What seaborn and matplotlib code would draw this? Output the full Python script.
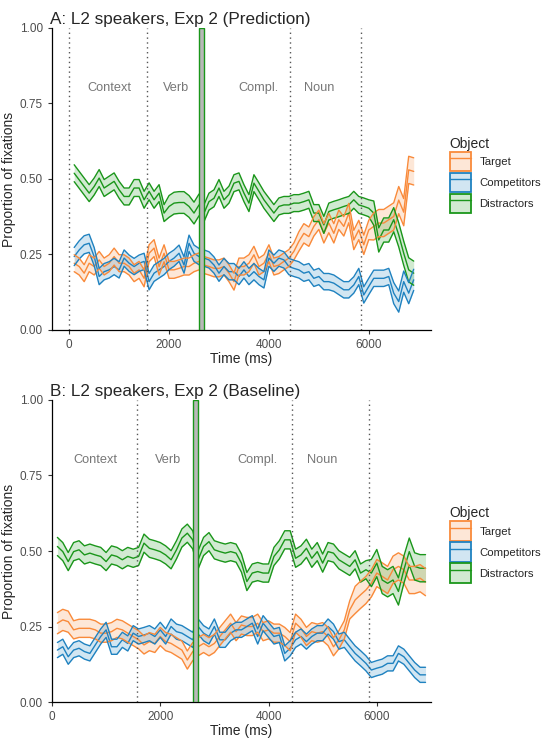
import numpy as np
import pandas as pd
import matplotlib
matplotlib.use("Agg")
import matplotlib.pyplot as plt
import seaborn as sns
from matplotlib.patches import Patch, Rectangle
from matplotlib.lines import Line2D

sns.set_style("ticks")
plt.rcParams['font.family'] = ['Liberation Sans', 'DejaVu Sans']

#%%
# data (proportion of fixations, 100 ms bins)
time = np.arange(100, 7000, 100)
objects = ["Target", "Competitors", "Distractors"]
colors = {"Target": "#F98A3A", "Competitors": "#1F82C0", "Distractors": "#1A961A"}

target_a = [0.221, 0.210, 0.188, 0.221, 0.210, 0.232, 0.210, 0.221, 0.243, 0.221,
            0.221, 0.210, 0.188, 0.199, 0.171, 0.254, 0.271, 0.210, 0.254, 0.199,
            0.199, 0.204, 0.210, 0.210, 0.221, 0.227, 0.215, 0.210, 0.204, 0.204,
            0.210, 0.188, 0.160, 0.210, 0.210, 0.221, 0.249, 0.210, 0.221, 0.254,
            0.210, 0.215, 0.227, 0.238, 0.260, 0.293, 0.320, 0.309, 0.343, 0.365,
            0.320, 0.354, 0.320, 0.365, 0.343, 0.387, 0.298, 0.331, 0.282, 0.331,
            0.343, 0.354, 0.354, 0.365, 0.376, 0.430, 0.390, 0.530, 0.525]
comp_a = [0.243, 0.265, 0.282, 0.287, 0.243, 0.177, 0.193, 0.199, 0.210, 0.199,
          0.238, 0.221, 0.210, 0.221, 0.227, 0.160, 0.188, 0.199, 0.210, 0.227,
          0.238, 0.254, 0.215, 0.287, 0.254, 0.243, 0.238, 0.232, 0.215, 0.188,
          0.210, 0.193, 0.193, 0.177, 0.199, 0.177, 0.193, 0.177, 0.166, 0.238,
          0.221, 0.238, 0.232, 0.210, 0.204, 0.199, 0.188, 0.193, 0.171, 0.177,
          0.160, 0.160, 0.155, 0.144, 0.133, 0.133, 0.149, 0.177, 0.116, 0.144,
          0.171, 0.171, 0.171, 0.177, 0.122, 0.094, 0.160, 0.122, 0.166]
dist_a = [0.519, 0.497, 0.475, 0.453, 0.475, 0.503, 0.470, 0.481, 0.492, 0.464,
          0.442, 0.442, 0.470, 0.470, 0.431, 0.459, 0.431, 0.453, 0.387, 0.409,
          0.420, 0.422, 0.422, 0.409, 0.387, 0.414, 0.387, 0.425, 0.436, 0.470,
          0.431, 0.448, 0.486, 0.492, 0.453, 0.420, 0.486, 0.459, 0.431, 0.409,
          0.387, 0.409, 0.414, 0.414, 0.420, 0.420, 0.425, 0.431, 0.387, 0.387,
          0.348, 0.392, 0.398, 0.403, 0.409, 0.414, 0.431, 0.414, 0.409, 0.403,
          0.387, 0.298, 0.331, 0.331, 0.365, 0.315, 0.254, 0.199, 0.188]

target_b = [0.261, 0.272, 0.266, 0.239, 0.244, 0.244, 0.244, 0.239, 0.228, 0.228,
            0.233, 0.244, 0.239, 0.228, 0.217, 0.206, 0.189, 0.200, 0.194, 0.217,
            0.200, 0.194, 0.183, 0.172, 0.139, 0.167, 0.183, 0.194, 0.183, 0.194,
            0.217, 0.239, 0.261, 0.233, 0.255, 0.250, 0.250, 0.261, 0.233, 0.239,
            0.228, 0.228, 0.217, 0.200, 0.261, 0.244, 0.217, 0.233, 0.228, 0.233,
            0.217, 0.183, 0.206, 0.239, 0.305, 0.338, 0.355, 0.371, 0.393, 0.427,
            0.416, 0.404, 0.438, 0.449, 0.438, 0.404, 0.404, 0.410, 0.397]
comp_b = [0.172, 0.183, 0.150, 0.172, 0.178, 0.167, 0.161, 0.189, 0.217, 0.239,
          0.183, 0.183, 0.206, 0.194, 0.228, 0.217, 0.222, 0.228, 0.217, 0.239,
          0.217, 0.250, 0.233, 0.228, 0.217, 0.206, 0.250, 0.228, 0.217, 0.250,
          0.206, 0.206, 0.228, 0.239, 0.239, 0.250, 0.261, 0.217, 0.261, 0.239,
          0.217, 0.222, 0.161, 0.178, 0.206, 0.217, 0.200, 0.217, 0.228, 0.228,
          0.250, 0.233, 0.200, 0.206, 0.183, 0.161, 0.145, 0.128, 0.106, 0.112,
          0.117, 0.128, 0.128, 0.161, 0.150, 0.128, 0.106, 0.090, 0.090]
dist_b = [0.515, 0.498, 0.465, 0.498, 0.504, 0.487, 0.493, 0.487, 0.482, 0.465,
          0.487, 0.482, 0.471, 0.482, 0.476, 0.482, 0.526, 0.509, 0.504, 0.498,
          0.487, 0.471, 0.504, 0.543, 0.559, 0.537, 0.471, 0.515, 0.531, 0.504,
          0.498, 0.493, 0.498, 0.493, 0.460, 0.399, 0.427, 0.432, 0.427, 0.427,
          0.482, 0.504, 0.537, 0.537, 0.476, 0.487, 0.509, 0.476, 0.498, 0.460,
          0.498, 0.493, 0.471, 0.460, 0.449, 0.471, 0.427, 0.438, 0.427, 0.460,
          0.404, 0.393, 0.404, 0.366, 0.438, 0.498, 0.449, 0.443, 0.443]

# half-width of the ribbons (standard error), estimated per stretch
se_target_a = [0.028] * 45 + [0.032] * 15 + [0.045] * 9
se_comp_a = [0.030] * 5 + [0.027] * 59 + [0.035] * 5
se_dist_a = [0.028] * 19 + [0.036] * 7 + [0.028] * 34 + [0.040] * 9
se_target_b = [0.035] * 3 + [0.030] * 52 + [0.045] * 14
se_comp_b = [0.025] * 69
se_dist_b = [0.030] * 58 + [0.045] * 11

word_onsets_a = [0, 1560, 4430, 5850]
word_onsets_b = [1570, 4430, 5850]
word_labels = ["Context", "Verb", "Compl.", "Noun"]
word_label_x = [800, 2150, 3800, 5000]
shade_window = (2600, 2700)

panels = [
    ("A: L2 speakers, Exp 2 (Prediction)",
     {"Target": (target_a, se_target_a), "Competitors": (comp_a, se_comp_a),
      "Distractors": (dist_a, se_dist_a)}, word_onsets_a, (-345, 7245)),
    ("B: L2 speakers, Exp 2 (Baseline)",
     {"Target": (target_b, se_target_b), "Competitors": (comp_b, se_comp_b),
      "Distractors": (dist_b, se_dist_b)}, word_onsets_b, (0, 7000)),
]

#%%
fig = plt.figure(figsize=(5.5, 7.41), dpi=100)
ax_pos = [[0.0945, 0.5547, 0.689, 0.4076], [0.0945, 0.0526, 0.689, 0.4076]]
legend_top = [0.825, 0.326]

for (title, series, onsets, xlim), pos, ltop in zip(panels, ax_pos, legend_top):
    ax = fig.add_axes(pos)
    frames = []
    for obj in objects:
        m, se = series[obj]
        m = np.array(m)
        se = np.array(se)
        frames.append(pd.DataFrame({"time": time, "mean": m, "lo": m - se,
                                    "hi": m + se, "Object": obj}))
    df = pd.concat(frames, ignore_index=True)

    for obj in objects:
        d = df[df["Object"] == obj]
        ax.fill_between(d["time"], d["lo"], d["hi"], color=colors[obj],
                        alpha=0.2, linewidth=0)
    for col in ["mean", "lo", "hi"]:
        sns.lineplot(data=df, x="time", y=col, hue="Object", palette=colors,
                     hue_order=objects, linewidth=1.0, legend=False, ax=ax)

    for x in onsets:
        ax.axvline(x, color="#555555", linestyle=(0, (1, 2.5)), linewidth=1.0)
    ax.add_patch(Rectangle((shade_window[0], 0), shade_window[1] - shade_window[0], 1,
                           facecolor="#B8B8B8", edgecolor=colors["Distractors"],
                           linewidth=1.0, zorder=5))
    for lab, x in zip(word_labels, word_label_x):
        ax.text(x, 0.80, lab, color="#777777", fontsize=9.2, ha="center", va="center")

    ax.set_xlim(*xlim)
    ax.set_ylim(0, 1)
    ax.set_xticks([0, 2000, 4000, 6000])
    ax.set_yticks([0, 0.25, 0.5, 0.75, 1.0])
    ax.set_yticklabels(["0.00", "0.25", "0.50", "0.75", "1.00"])
    ax.tick_params(colors="#333333", labelcolor="#4D4D4D", labelsize=8.5,
                   length=3, width=0.8)
    sns.despine(ax=ax)
    for s in ["left", "bottom"]:
        ax.spines[s].set_color("black")
        ax.spines[s].set_linewidth(0.9)
    ax.set_xlabel("Time (ms)", fontsize=10, labelpad=1)
    ax.set_ylabel("Proportion of fixations", fontsize=10, labelpad=3)
    ax.set_title(title, fontsize=12.3, loc="left", x=-0.005, pad=3)

    handles = [(Patch(facecolor=colors[o], alpha=0.2, edgecolor="none"),
                Patch(facecolor="none", edgecolor=colors[o], linewidth=1.3),
                Line2D([], [], color=colors[o], linewidth=1.0)) for o in objects]
    fig.legend(handles, objects, title="Object", loc="upper left",
               bbox_to_anchor=(0.805, ltop), frameon=False, fontsize=8.2,
               title_fontsize=10, handlelength=1.9, handleheight=2.3,
               labelspacing=0.1, handletextpad=0.7, alignment="left",
               borderaxespad=0.2)

fig.savefig("out.png", dpi=100)
